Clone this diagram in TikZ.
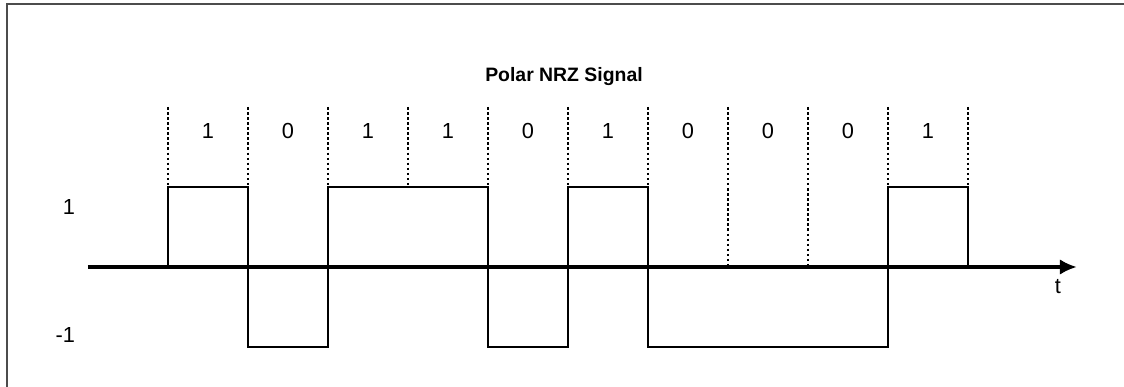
\documentclass[tikz,border=0pt]{standalone}
\usepackage{fontspec}
\setmainfont{Liberation Sans}
\usetikzlibrary{arrows.meta}
\tikzset{>={Latex[length=12pt,width=11pt]}}
\tikzset{font=\fontsize{15.5}{18}\selectfont}

\begin{document}
\begin{tikzpicture}[x=2cm, y=2cm,
    level/.style={line width=1.1pt},
    tick/.style={line width=1.4pt, dash pattern=on 1.8pt off 1.8pt},
    axis/.style={line width=2.2pt, ->}]
  \useasboundingbox (-2.1,-1.5) rectangle (11.95,3.3375);
  \draw[line width=1.6pt, black!70] (-2.0125,-1.6) -- (-2.0125,3.29) -- (12,3.29);

  \node[font=\fontsize{13.8}{16}\selectfont\bfseries] (title) at (4.95,2.375) {Polar NRZ Signal};

  % bit boundaries
  \foreach \x/\y in {0/1,1/1,2/1,3/1,4/1,5/1,6/1,7/0,8/0,9/1,10/1}
    \draw[tick] (\x,2) -- (\x,\y);
  \foreach \b [count=\i from 0] in {1,0,1,1,0,1,0,0,0,1}
    \node (bit\i) at (\i+0.5,1.7) {\b};

  \draw[level] (0,0) -- (0,1) -- (1,1) -- (1,-1) -- (2,-1) -- (2,1) -- (4,1)
    -- (4,-1) -- (5,-1) -- (5,1) -- (6,1) -- (6,-1) -- (9,-1) -- (9,1)
    -- (10,1) -- (10,0);

  \coordinate (start) at (-1,0);
  \coordinate (tip) at (11.36,0);
  \draw[axis] (start) -- (tip);
  \node (t) at (11.125,-0.24) {t};
  \node[anchor=east] (high) at (-1.1,0.75) {1};
  \node[anchor=east] (low) at (-1.1,-0.85) {-1};
\end{tikzpicture}
\end{document}
